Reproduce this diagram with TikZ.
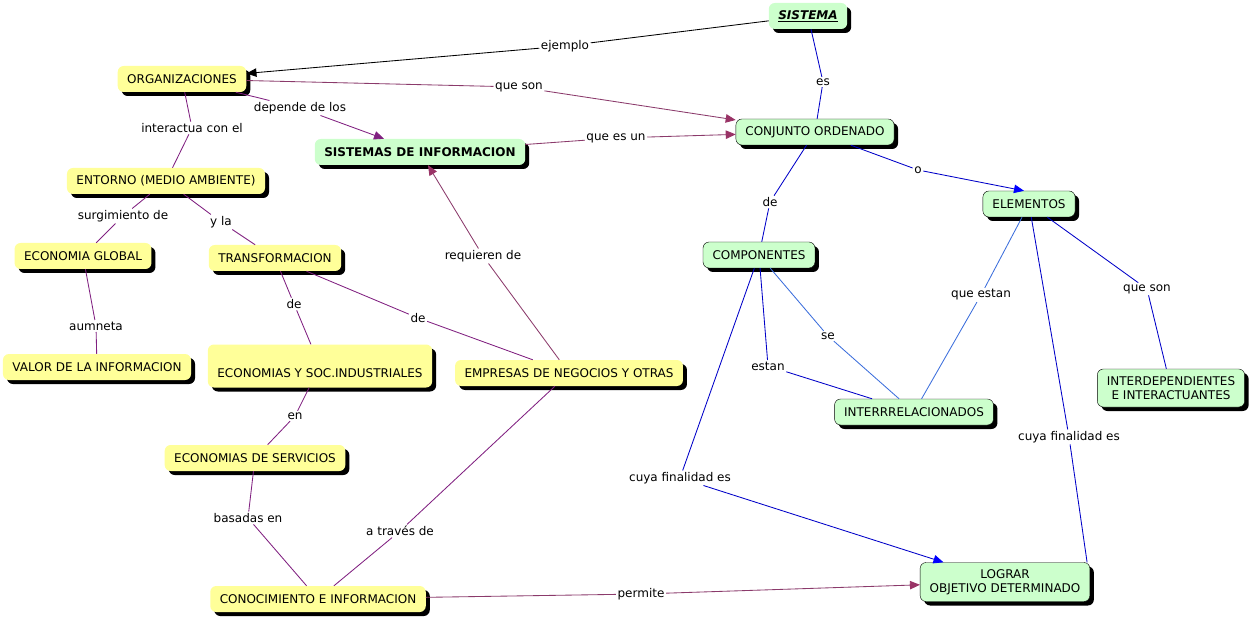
\documentclass[tikz,border=0pt]{standalone}
\usepackage{fontspec}
\setmainfont{DejaVu Sans}
\usepackage{xcolor}
\usetikzlibrary{arrows.meta,shadows}

\definecolor{cmapyellow}{RGB}{255,255,153}
\definecolor{cmapgreen}{RGB}{204,255,204}
\definecolor{linkpurple}{RGB}{128,32,128}
\definecolor{linkmaroon}{RGB}{139,58,107}
\definecolor{tipmaroon}{RGB}{153,51,102}
\definecolor{linkblue}{RGB}{0,0,200}
\definecolor{linksky}{RGB}{60,110,220}

\tikzset{
    concept/.style={rounded corners=6pt, minimum height=26pt, inner xsep=9.5pt,
        align=center, font=\fontsize{12}{14}\selectfont,
        drop shadow={shadow xshift=4pt, shadow yshift=-4pt, fill=black, opacity=1}},
    yconcept/.style={concept, fill=cmapyellow},
    gconcept/.style={concept, fill=cmapgreen},
    gboxed/.style={gconcept, draw=black, thin},
    linklabel/.style={inner sep=1.5pt, font=\fontsize{12}{14}\selectfont},
    blacklink/.style={draw=black, >={Triangle[length=10pt,width=8.5pt,color=black]}},
    maroonlink/.style={draw=linkmaroon, >={Triangle[length=10pt,width=8.5pt,color=tipmaroon]}},
    purplelink/.style={draw=linkpurple, >={Triangle[length=10pt,width=8.5pt,color=linkpurple]}},
    bluelink/.style={draw=linkblue, >={Triangle[length=10pt,width=8.5pt,color=blue]}},
    skylink/.style={draw=linksky},
}

\begin{document}
\begin{tikzpicture}[x=1pt, y=-1pt]
        \useasboundingbox (0,0) rectangle (1252,617);

        % conceptos
        \node[gconcept] (sistema) at (808,16) {\underline{\textbf{\textit{SISTEMA}}}};
        \node[yconcept] (org) at (182,79) {ORGANIZACIONES};
        \node[gconcept] (sdi) at (420,152) {\textbf{SISTEMAS DE INFORMACION}};
        \node[gboxed] (conjunto) at (815,132) {CONJUNTO ORDENADO};
        \node[yconcept] (entorno) at (166,181) {ENTORNO (MEDIO AMBIENTE)};
        \node[yconcept] (global) at (83,256) {ECONOMIA GLOBAL};
        \node[yconcept] (transf) at (275,258) {TRANSFORMACION};
        \node[yconcept] (valor) at (97,367) {VALOR DE LA INFORMACION};
        \node[yconcept, minimum height=43pt] (industr) at (320,366) {\strut\\ECONOMIAS Y SOC.INDUSTRIALES};
        \node[yconcept] (empresas) at (569,373) {EMPRESAS DE NEGOCIOS Y OTRAS};
        \node[yconcept] (servicios) at (255,458) {ECONOMIAS DE SERVICIOS};
        \node[yconcept] (conoc) at (318,599) {CONOCIMIENTO E INFORMACION};
        \node[gboxed] (comp) at (759,255) {COMPONENTES};
        \node[gboxed] (elem) at (1029,204) {ELEMENTOS};
        \node[gboxed] (interr) at (914,412) {INTERRRELACIONADOS};
        \node[gboxed, minimum height=38pt] (interdep) at (1171,388) {INTERDEPENDIENTES\\E INTERACTUANTES};
        \node[gboxed, minimum height=39pt] (lograr) at (1005,582) {LOGRAR\\OBJETIVO DETERMINADO};

        % frases de enlace
        \begin{scope}[every node/.style={linklabel}]
            \node (lejemplo) at (565,46) {ejemplo};
            \node (les) at (823,82) {es};
            \node (lqueson) at (519,87) {que son};
            \node (ldepende) at (300,108) {depende de los};
            \node (linteractua) at (192,128) {interactua con el};
            \node (lquees) at (616,138) {que es un};
            \node (lsurg) at (123,216) {surgimiento de};
            \node (lyla) at (221,222) {y la};
            \node (laumneta) at (96,326) {aumneta};
            \node (ldetr) at (294,304) {de};
            \node (ldeemp) at (418,318) {de};
            \node (lrequieren) at (483,256) {requieren de};
            \node (len) at (295,416) {en};
            \node (lbasadas) at (248,518) {basadas en};
            \node (ltraves) at (400,531) {a través de};
            \node (lpermite) at (641,594) {permite};
            \node (ldecomp) at (770,202) {de};
            \node (lo) at (918,170) {o};
            \node (lqueestan) at (981,295) {que estan};
            \node (lquesonb) at (1147,289) {que son};
            \node (lse) at (828,336) {se};
            \node (lestan) at (768,366) {estan};
            \node (lcuyaa) at (680,478) {cuya finalidad es};
            \node (lcuyab) at (1069,437) {cuya finalidad es};
        \end{scope}

        \begin{scope}[line width=0.85pt]
            \path [blacklink] (sistema) edge (lejemplo) (lejemplo) edge[->] (org);

            \path [maroonlink] (org) edge (lqueson) (lqueson) edge[->] (conjunto);
            \path [maroonlink] (sdi) edge (lquees) (lquees) edge[->] (conjunto);
            \path [maroonlink] (empresas) edge (lrequieren) (lrequieren) edge[->] (sdi);
            \path [maroonlink] (conoc) edge (lpermite) (lpermite) edge[->] (lograr);

            \path [purplelink] (org) edge (ldepende) (ldepende) edge[->] (sdi);
            \path [purplelink] (org) edge (linteractua) (linteractua) edge (entorno);
            \path [purplelink] (entorno) edge (lsurg) (lsurg) edge (global);
            \path [purplelink] (entorno) edge (lyla) (lyla) edge (transf);
            \path [purplelink] (global) edge (laumneta) (laumneta) edge (valor);
            \path [purplelink] (transf) edge (ldetr) (ldetr) edge (industr);
            \path [purplelink] (transf) edge (ldeemp) (ldeemp) edge (empresas);
            \path [purplelink] (industr) edge (len) (len) edge (servicios);
            \path [purplelink] (servicios) edge (lbasadas) (lbasadas) edge (conoc);
            \path [purplelink] (empresas) edge (ltraves) (ltraves) edge (conoc);

            \path [bluelink] (sistema) edge (les) (les) edge (conjunto);
            \path [bluelink] (conjunto) edge (ldecomp) (ldecomp) edge (comp);
            \path [bluelink] (conjunto) edge (lo) (lo) edge[->] ([xshift=-5pt]elem.north);
            \path [bluelink] (elem) edge (lquesonb) (lquesonb) edge (interdep);
            \path [bluelink] (comp) edge (lestan) (lestan) edge (interr);
            \path [bluelink] (comp) edge (lcuyaa) (lcuyaa) edge[->] (lograr);
            \path [bluelink] (elem) edge (lcuyab) (lcuyab) edge ([xshift=-3pt]lograr.north east);

            \path [skylink] (comp) edge (lse) (lse) edge (interr);
            \path [skylink] (elem) edge (lqueestan) (lqueestan) edge (interr);
        \end{scope}
    \end{tikzpicture}
\end{document}
